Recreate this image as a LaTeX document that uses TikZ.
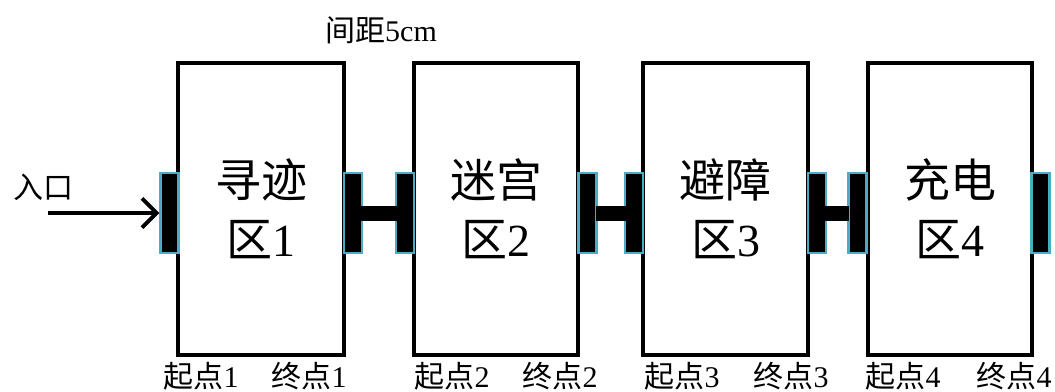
\documentclass[tikz,border=0pt]{standalone}
\usepackage{fontspec}
\setmainfont{Liberation Serif}
\newfontfamily\cjk{Noto Sans CJK SC}
\usetikzlibrary{arrows.meta}
\definecolor{barblue}{RGB}{75,172,198}
\begin{document}
\begin{tikzpicture}[x=0.75pt,y=-0.75pt,
  zone/.style={draw=black, line width=2.4pt, minimum height=219pt, align=center,
    font=\fontsize{34.5pt}{44pt}\selectfont, inner sep=0pt},
  endbar/.style={draw=barblue, fill=black, line width=1.6pt, minimum width=13.5pt,
    minimum height=60pt, inner sep=0pt},
  crossbar/.style={line width=11.25pt, black},
  lbl/.style={font=\fontsize{22.5pt}{26pt}\selectfont, inner sep=0pt}]
\useasboundingbox (0,0) rectangle (1055,392);
% zones
\node[zone, minimum width=124.5pt] (b1) at (261,209) {{\cjk 寻迹}\\{\cjk 区}1};
\node[zone, minimum width=123pt] (b2) at (496,209) {{\cjk 迷宫}\\{\cjk 区}2};
\node[zone, minimum width=123.75pt] (b3) at (725.5,209) {{\cjk 避障}\\{\cjk 区}3};
\node[zone, minimum width=123pt] (b4) at (950,209) {{\cjk 充电}\\{\cjk 区}4};
% bars
\node[endbar] (s1) at (169.5,213) {};
\node[endbar] (h1l) at (353,213) {};
\node[endbar] (h1r) at (405,213) {};
\node[endbar] (h2l) at (587.5,213) {};
\node[endbar] (h2r) at (634,213) {};
\node[endbar] (h3l) at (817,213) {};
\node[endbar] (h3r) at (857.5,213) {};
\node[endbar] (e4) at (1040.5,213) {};
\draw[crossbar] ([xshift=-1.5pt]h1l.east) -- ([xshift=1.5pt]h1r.west);
\draw[crossbar] ([xshift=-1.5pt]h2l.east) -- ([xshift=1.5pt]h2r.west);
\draw[crossbar] ([xshift=-1.5pt]h3l.east) -- ([xshift=1.5pt]h3r.west);
% entrance
\node[lbl] (entry) at (43,187) {\cjk 入口};
\coordinate (start) at (48,213);
\draw[line width=3pt, -{Straight Barb[length=11pt,width=22pt,line width=3pt]}] (start) -- (s1.west);
% spacing label
\node[lbl] (gap) at (381,30) {{\cjk 间距}5cm};
% bottom labels
\node[lbl] (p1a) at (201,376) {{\cjk 起点}1};
\node[lbl] (p1b) at (309,376) {{\cjk 终点}1};
\node[lbl] (p2a) at (452,376) {{\cjk 起点}2};
\node[lbl] (p2b) at (560,376) {{\cjk 终点}2};
\node[lbl] (p3a) at (682,376) {{\cjk 起点}3};
\node[lbl] (p3b) at (791,376) {{\cjk 终点}3};
\node[lbl] (p4a) at (903,376) {{\cjk 起点}4};
\node[lbl] (p4b) at (1014,376) {{\cjk 终点}4};
\end{tikzpicture}
\end{document}
